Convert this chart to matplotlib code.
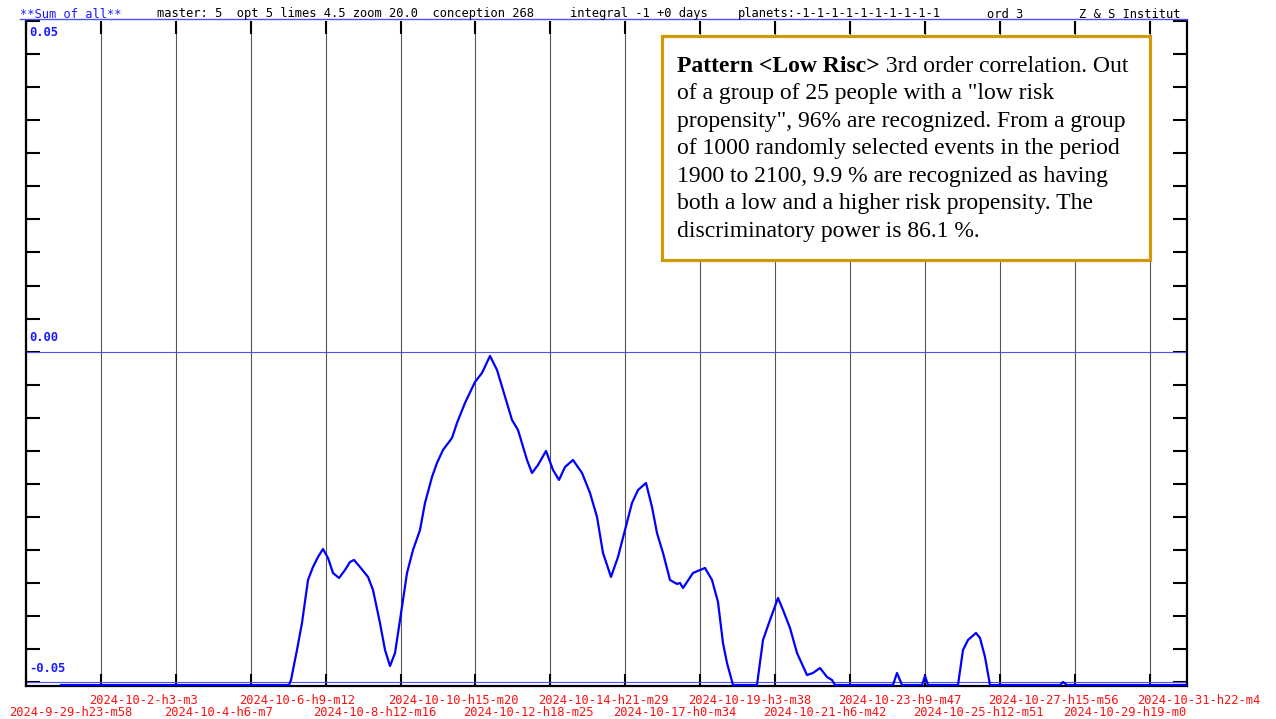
import matplotlib
matplotlib.use("Agg")
import matplotlib.pyplot as plt
import matplotlib.dates as mdates
from matplotlib.lines import Line2D
from matplotlib.patches import Rectangle
from matplotlib.transforms import blended_transform_factory, offset_copy
from datetime import datetime
import numpy as np

W, H = 1276, 719

# header line items (text, start x in px, colour)
header_items = [
    ("**Sum of all**", 20, "#1a1aff"),
    ("master: 5  opt 5 limes 4.5 zoom 20.0  conception 268", 157, "black"),
    ("integral -1 +0 days", 570, "black"),
    ("planets:-1-1-1-1-1-1-1-1-1-1", 738, "black"),
    ("ord 3", 987, "black"),
    ("Z & S Institut", 1079, "black"),
]

tick_labels = [
    "2024-9-29-h23-m58", "2024-10-2-h3-m3", "2024-10-4-h6-m7", "2024-10-6-h9-m12",
    "2024-10-8-h12-m16", "2024-10-10-h15-m20", "2024-10-12-h18-m25", "2024-10-14-h21-m29",
    "2024-10-17-h0-m34", "2024-10-19-h3-m38", "2024-10-21-h6-m42", "2024-10-23-h9-m47",
    "2024-10-25-h12-m51", "2024-10-27-h15-m56", "2024-10-29-h19-m0", "2024-10-31-h22-m4",
]

# curve: days after first tick, value
days = [0.994, 7.472, 7.529, 7.699, 7.841, 8.012, 8.154, 8.296, 8.438, 8.580,
        8.722, 8.893, 9.063, 9.205, 9.319, 9.489, 9.717, 9.859, 10.057, 10.200,
        10.342, 10.484, 10.626, 10.825, 10.995, 11.194, 11.336, 11.535, 11.677, 11.847,
        12.103, 12.245, 12.472, 12.757, 12.955, 13.183, 13.382, 13.552, 13.808, 13.978,
        14.234, 14.376, 14.546, 14.774, 14.973, 15.143, 15.314, 15.541, 15.797, 16.024,
        16.223, 16.393, 16.620, 16.819, 17.018, 17.217, 17.388, 17.615, 17.785, 17.927,
        18.098, 18.297, 18.496, 18.581, 18.666, 18.950, 19.291, 19.490, 19.660, 19.802,
        19.916, 20.087, 20.768, 20.939, 21.138, 21.365, 21.507, 21.706, 21.905, 22.189,
        22.359, 22.558, 22.757, 22.899, 22.984, 24.632, 24.746, 24.888, 25.456, 25.542,
        25.627, 26.479, 26.621, 26.763, 26.990, 27.104, 27.246, 27.388, 29.377, 29.462,
        29.576, 32.985]
values = [-0.05041, -0.05041, -0.04965, -0.04511, -0.04103, -0.03453, -0.03256, -0.03105, -0.02984, -0.03120,
          -0.03347, -0.03423, -0.03302, -0.03181, -0.03150, -0.03256, -0.03407, -0.03604, -0.04103, -0.04511,
          -0.04753, -0.04557, -0.04058, -0.03347, -0.02999, -0.02697, -0.02288, -0.01895, -0.01683, -0.01487,
          -0.01305, -0.01078, -0.00776, -0.00458, -0.00322, -0.00065, -0.00277, -0.00579, -0.01033, -0.01184,
          -0.01638, -0.01835, -0.01714, -0.01502, -0.01789, -0.01940, -0.01744, -0.01638, -0.01835, -0.02137,
          -0.02500, -0.03044, -0.03407, -0.03105, -0.02697, -0.02288, -0.02092, -0.01986, -0.02349, -0.02742,
          -0.03044, -0.03453, -0.03513, -0.03498, -0.03574, -0.03347, -0.03271, -0.03453, -0.03786, -0.04406,
          -0.04708, -0.05041, -0.05041, -0.04360, -0.04058, -0.03725, -0.03906, -0.04179, -0.04557, -0.04890,
          -0.04859, -0.04784, -0.04920, -0.04965, -0.05041, -0.05041, -0.04859, -0.05041, -0.05041, -0.04905,
          -0.05041, -0.05041, -0.04511, -0.04360, -0.04254, -0.04330, -0.04617, -0.05041, -0.05041, -0.04995,
          -0.05041, -0.05041]

y_labels = ["0.05", "0.00", "-0.05"]
y_label_vals = [0.05, 0.0, -0.05]

box_bold = "Pattern <Low Risc>"
box_lines = [
    " 3rd order correlation. Out",
    'of a group of 25 people with a "low risk',
    'propensity", 96% are recognized. From a group',
    "of 1000 randomly selected events in the period",
    "1900 to 2100, 9.9 % are recognized as having",
    "both a low and a higher risk propensity. The",
    "discriminatory power is 86.1 %.",
]


def parse_label(s):
    y, m, d, h, mi = s.split("-")
    return datetime(int(y), int(m), int(d), int(h[1:]), int(mi[1:]))


tick_nums = [mdates.date2num(parse_label(s)) for s in tick_labels]
x0 = tick_nums[0]
xs = [x0 + d for d in days]

fig = plt.figure(figsize=(W / 100, H / 100), dpi=100)
ax = fig.add_axes([26 / W, 1 - 686 / H, (1187 - 26) / W, (686 - 21) / H])

ax.plot(xs, values, color="#0000ff", lw=1.6, zorder=3)
ax.axhline(0, color="#5050ff", lw=0.8, zorder=2)
ax.axhline(-0.05, color="#5050ff", lw=0.8, zorder=2)

ax.set_xlim(x0, x0 + 32.985)
ax.set_ylim(-0.05056, 0.05)

ax.set_xticks(tick_nums)
ax.set_yticks(np.linspace(-0.05, 0.05, 21))
ax.grid(axis="x", color="#555555", lw=0.8)
ax.tick_params(axis="x", direction="in", length=9, width=1.5, top=True, bottom=True,
               labelbottom=False, color="black")
ax.tick_params(axis="y", direction="in", length=10, width=1.5, left=True, right=True,
               labelleft=False, color="black")
ax.spines["top"].set_visible(False)
for s in ["left", "right", "bottom"]:
    ax.spines[s].set_linewidth(1.6)

mono = "DejaVu Sans Mono"

# y labels inside the plot
for lab, v in zip(y_labels, y_label_vals):
    tr = blended_transform_factory(ax.transAxes, ax.transData)
    dy = -12 if v == 0.05 else 14
    ax.text(0, v, lab, transform=offset_copy(tr, fig=fig, x=3, y=dy, units="dots"),
            family=mono, fontsize=8.7, weight="bold", color="#1a1aff",
            ha="left", va="center")

# x labels in two staggered rows
tr = blended_transform_factory(ax.transData, ax.transAxes)
for i, (xn, lab) in enumerate(zip(tick_nums, tick_labels)):
    dy = -26 if i % 2 == 0 else -14
    dx = -17 if i == 0 else -12
    ax.text(xn, 0, lab, transform=offset_copy(tr, fig=fig, x=dx, y=dy, units="dots"),
            family=mono, fontsize=8.7, color="#ff1010", ha="left", va="center",
            clip_on=False)

# header
for txt, px, col in header_items:
    fig.text(px / W, 1 - 14 / H, txt, family=mono, fontsize=8.7, color=col,
             ha="left", va="center")
fig.add_artist(Line2D([20 / W, 1187 / W], [1 - 18.5 / H] * 2, color="#5050ff", lw=1))

# annotation box
fig.add_artist(Rectangle((662 / W, 1 - 260 / H), 488 / W, 224 / H, transform=fig.transFigure,
                         facecolor="white", edgecolor="#cf9a06", lw=2.3, zorder=5))
serif = "Liberation Serif"
fs = 17
t_bold = fig.text(677 / W, 1 - 71.7 / H, box_bold, family=serif, fontsize=fs,
                  weight="bold", ha="left", va="baseline", zorder=6)
t_rest = fig.text(0, 0, box_lines[0], family=serif, fontsize=fs, ha="left",
                  va="baseline", zorder=6)
for i, line in enumerate(box_lines[1:], start=1):
    fig.text(677 / W, 1 - (71.7 + i * 27.5) / H, line, family=serif, fontsize=fs,
             ha="left", va="baseline", zorder=6)

# place the regular part of line 1 right after the bold part
fig.canvas.draw()
bb = t_bold.get_window_extent()
t_rest.set_position((bb.x1 / W, 1 - 71.7 / H))

fig.savefig("out.png", dpi=100, facecolor="white")
